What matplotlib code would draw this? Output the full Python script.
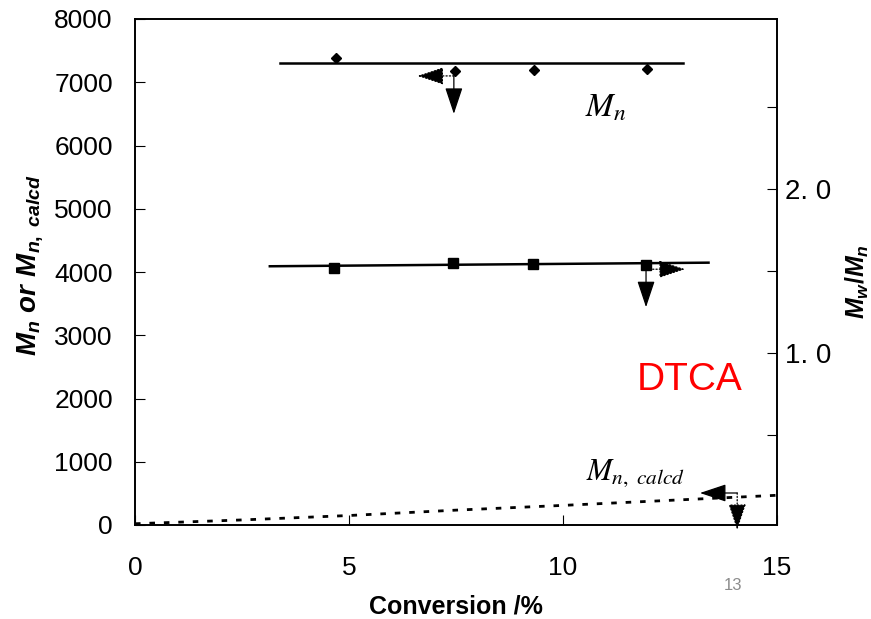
import matplotlib
matplotlib.use('Agg')
import matplotlib.pyplot as plt

plt.rcParams['font.family'] = ['Liberation Sans', 'DejaVu Sans']
plt.rcParams['mathtext.fontset'] = 'custom'
plt.rcParams['mathtext.it'] = 'Liberation Sans:italic:bold'
plt.rcParams['mathtext.rm'] = 'Liberation Sans:bold'
plt.rcParams['mathtext.bf'] = 'Liberation Sans:bold'

# data
conv_mn = [4.70, 7.48, 9.32, 11.96]
mn = [7390, 7170, 7195, 7210]
mn_fit_x = [3.39, 12.8]
mn_fit_y = [7300, 7300]

conv_pdi = [4.65, 7.43, 9.30, 11.94]
pdi = [1.518, 1.549, 1.543, 1.537]
pdi_fit_x = [3.15, 13.4]
pdi_fit_y = [1.53, 1.552]

conv_calcd = [0, 2.5, 5, 7.5, 10, 12.5, 15]
mn_calcd = [20, 80, 150, 235, 310, 390, 470]

# arrows: (origin, tip, linestyle)
mn_arrows = [((7.45, 7100), (6.6, 7100), ':'), ((7.45, 7100), (7.45, 6500), '-')]
pdi_arrows = [((11.94, 1.512), (12.85, 1.512), ':'), ((11.94, 1.512), (11.94, 1.28), '-')]
calcd_arrows = [((14.07, 506), (13.2, 506), '-'), ((14.07, 506), (14.07, -79), ':')]

fig = plt.figure(figsize=(8.71, 6.19), dpi=100)
ax = fig.add_axes([135 / 871, 1 - 525 / 619, 642 / 871, 506 / 619])
ax2 = ax.twinx()

ax.plot(mn_fit_x, mn_fit_y, color='k', lw=1.8)
ax.plot(conv_mn, mn, 'D', color='k', ms=5)
ax.plot(conv_calcd, mn_calcd, color='k', lw=2, linestyle=(0, (2, 3.2)))

ax2.plot(pdi_fit_x, pdi_fit_y, color='k', lw=1.8)
ax2.plot(conv_pdi, pdi, 's', color='k', ms=7.5)


def draw_arrows(axis, arrows):
    for start, tip, ls in arrows:
        axis.annotate('', xy=tip, xytext=start, annotation_clip=False,
                      arrowprops=dict(arrowstyle='-|>,head_length=0.75,head_width=0.25',
                                      mutation_scale=22, lw=0.9, ls=ls,
                                      fc='k', ec='k', shrinkA=0, shrinkB=0))


draw_arrows(ax, mn_arrows)
draw_arrows(ax2, pdi_arrows)
draw_arrows(ax, calcd_arrows)

ax.set_xlim(0, 15)
ax.set_ylim(0, 8000)
ax2.set_ylim(-0.05, 3.04)

ax.set_xticks([0, 5, 10, 15])
ax.set_yticks(range(0, 8001, 1000))
ax2.set_yticks([0.5, 1.0, 1.5, 2.0, 2.5])
ax2.set_yticklabels(['', '1. 0', '', '2. 0', ''])

ax.tick_params(axis='y', direction='in', length=7, labelsize=19, pad=16)
ax.tick_params(axis='x', direction='in', length=7, labelsize=19, pad=22)
ax2.tick_params(axis='y', direction='in', length=7, labelsize=20, pad=6)

for a in (ax, ax2):
    for s in a.spines.values():
        s.set_linewidth(1.2)

ax.set_xlabel('Conversion /%', fontsize=18, fontweight='bold', labelpad=11)
fig.text(30 / 871, 1 - 265 / 619, r'$M_n\ or\ M_{n,\ calcd}$', rotation=90,
         ha='center', va='center', fontsize=20)
fig.text(857 / 871, 1 - 282 / 619, r'$M_w/M_n$', rotation=90,
         ha='center', va='center', fontsize=18)

ax.text(11.0, 6600, r'$M_n$', fontsize=24, math_fontfamily='stix',
        ha='center', va='center')
ax.text(11.7, 820, r'$M_{n,\ calcd}$', fontsize=22, math_fontfamily='stix',
        ha='center', va='center')
ax.text(12.95, 2300, 'DTCA', color='#ff0000', fontsize=28, ha='center', va='center')
fig.text(733 / 871, 1 - 585 / 619, '13', color='#8c8c8c', fontsize=12,
         ha='center', va='center')

fig.savefig('out.png', dpi=100)
